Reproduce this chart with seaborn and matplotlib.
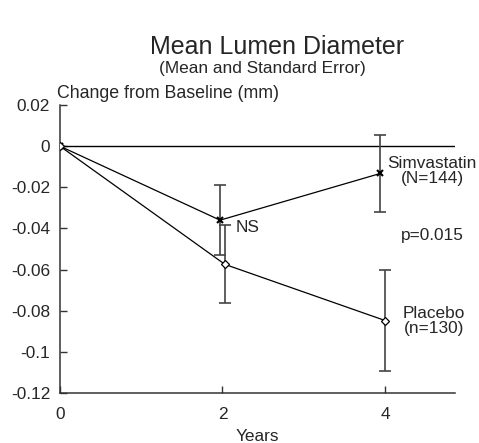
import pandas as pd
import matplotlib
matplotlib.use("Agg")
import matplotlib.pyplot as plt
import seaborn as sns

# data
years = [0, 2, 4]
simva_x = [0, 1.97, 3.94]
simva_mean = [0, -0.036, -0.0133]
simva_se = [0, 0.017, 0.0189]
placebo_x = [0, 2.03, 4.0]
placebo_mean = [0, -0.0575, -0.0848]
placebo_se = [0, 0.019, 0.0244]
yticks = [0.02, 0, -0.02, -0.04, -0.06, -0.08, -0.1, -0.12]
ytick_labels = ["0.02", "0", "-0.02", "-0.04", "-0.06", "-0.08", "-0.1", "-0.12"]

sns.set_style("ticks")
plt.rcParams['font.family'] = ['Liberation Sans', 'DejaVu Sans']

df = pd.concat([
    pd.DataFrame({'x': simva_x, 'y': simva_mean, 'se': simva_se, 'grp': 'Simvastatin'}),
    pd.DataFrame({'x': placebo_x, 'y': placebo_mean, 'se': placebo_se, 'grp': 'Placebo'}),
])

fs = 12.4

fig = plt.figure(figsize=(4.79, 4.43), dpi=100)
ax = fig.add_axes([0.125, 0.113, 0.825, 0.65])

ax.axhline(0, color='black', lw=1, zorder=1)

sim = df[df.grp == 'Simvastatin']
pla = df[df.grp == 'Placebo']
# error bars (skip baseline point)
ax.errorbar(sim.x[1:], sim.y[1:], yerr=sim.se[1:], fmt='none', ecolor='#444444',
            elinewidth=1.2, capsize=4, capthick=1.2, zorder=2)
ax.errorbar(pla.x[1:], pla.y[1:], yerr=pla.se[1:], fmt='none', ecolor='#444444',
            elinewidth=1.2, capsize=4, capthick=1.2, zorder=2)

sns.lineplot(data=sim, x='x', y='y', color='black', lw=0.9, marker='x', markersize=5,
             markeredgewidth=1.5, markeredgecolor='black', ax=ax, zorder=3, estimator=None)
sns.lineplot(data=pla, x='x', y='y', color='black', lw=0.9, marker='D', markersize=4.5,
             markerfacecolor='white', markeredgecolor='black', markeredgewidth=0.9,
             ax=ax, zorder=3, estimator=None)

ax.set_xlim(0, 4.86)
ax.set_ylim(-0.12, 0.02)
ax.set_xticks(years)
ax.set_xticklabels([str(v) for v in years])
ax.set_yticks(yticks)
ax.set_yticklabels(ytick_labels)
ax.tick_params(direction='in', length=5, width=1, labelsize=fs, color='#333333')
ax.tick_params(axis='x', pad=10)
ax.tick_params(axis='y', pad=7)
sns.despine(ax=ax)
for s in ['left', 'bottom']:
    ax.spines[s].set_color('#333333')
    ax.spines[s].set_linewidth(1.1)
ax.set_xlabel('Years', fontsize=fs, labelpad=5)
ax.set_ylabel('')

ax.text(4.58, -0.012, 'Simvastatin\n(N=144)', ha='center', va='center', fontsize=fs,
        linespacing=1.0)
ax.text(2.16, -0.0397, 'NS', ha='left', va='center', fontsize=fs)
ax.text(4.58, -0.0436, 'p=0.015', ha='center', va='center', fontsize=fs)
ax.text(4.6, -0.085, 'Placebo\n(n=130)', ha='center', va='center', fontsize=fs,
        linespacing=1.0)

fig.text(0.119, 0.79, 'Change from Baseline (mm)', ha='left', va='center', fontsize=12.8)
fig.text(0.578, 0.893, 'Mean Lumen Diameter', ha='center', va='center', fontsize=18)
fig.text(0.547, 0.846, '(Mean and Standard Error)', ha='center', va='center', fontsize=fs)

fig.savefig('out.png', dpi=100)
